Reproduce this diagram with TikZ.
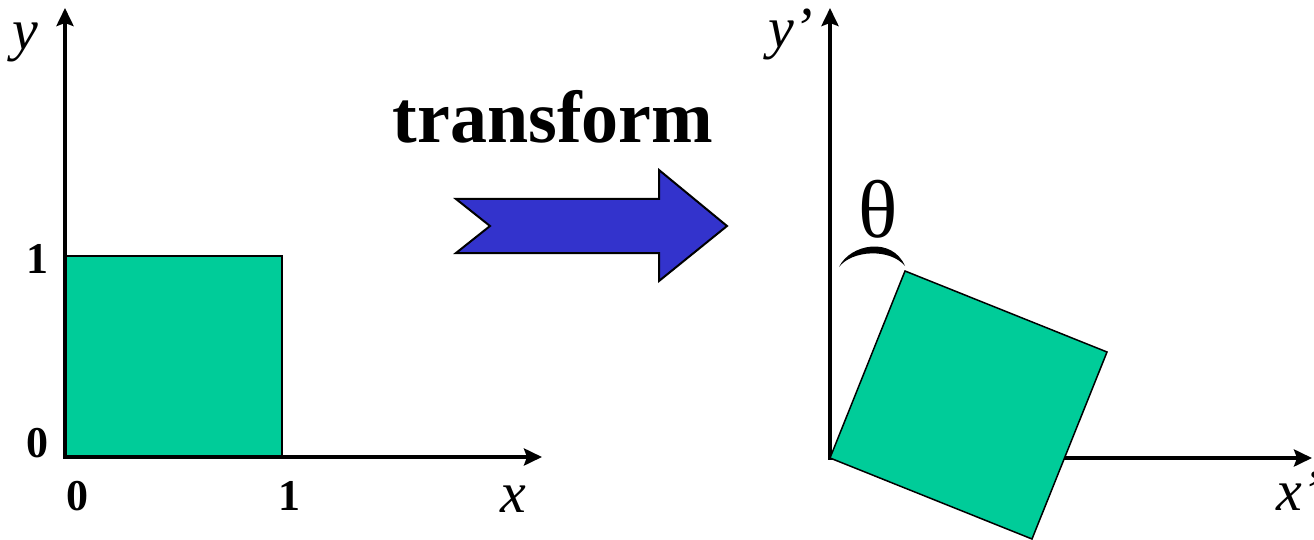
\documentclass[tikz,border=0pt]{standalone}
\usepackage{fontspec}
\setmainfont{Liberation Serif}
\usetikzlibrary{arrows.meta}
\definecolor{sqgreen}{HTML}{00CC99}
\definecolor{arrblue}{HTML}{3333CC}
\begin{document}
\begin{tikzpicture}[x=1pt,y=-1pt,
  axis/.style={line width=4pt,-{Stealth[length=18pt,width=17pt,inset=3pt]}},
  sq/.style={fill=sqgreen,draw=black,line width=1.5pt},
  lbl/.style={font=\fontsize{58}{60}\selectfont\itshape,anchor=base,inner sep=0pt},
  num/.style={font=\fontsize{44}{46}\selectfont\bfseries,anchor=base,inner sep=0pt},
  bigarrow/.style={fill=arrblue,draw=black,line width=2pt,line join=miter}]
\useasboundingbox (0,0) rectangle (1314,540);
% left system
\coordinate (o1) at (65,457);
\coordinate (ytip1) at (65,8);
\coordinate (xtip1) at (542,457);
\coordinate (c1) at (282,256);
\draw[sq] (o1) rectangle (c1);
\draw[axis] ([yshift=2pt]o1) -- (ytip1);
\draw[axis] ([xshift=-2pt]o1) -- (xtip1);
\node[lbl] (ly) at (25,50) {y};
\node[lbl] (lx) at (513,512) {x};
\node[num] (n0l) at (37,457) {0};
\node[num] (n1l) at (37,273) {1};
\node[num] (n0b) at (77,510) {0};
\node[num] (n1b) at (289,510) {1};
% transform arrow
\node[font=\fontsize{74}{76}\selectfont\bfseries,anchor=base,inner sep=0pt] (tr) at (553,143) {transform};
\draw[bigarrow] (456,199) -- (490,226) -- (456,253) -- (659,253) -- (659,281) -- (727,226) -- (659,170) -- (659,199) -- cycle;
% right system
\coordinate (o2) at (830,458);
\coordinate (ytip2) at (830,8);
\coordinate (xtip2) at (1312,458);
\draw[axis] ([yshift=2pt]o2) -- (ytip2);
\draw[axis] ([xshift=-2pt]o2) -- (xtip2);
\coordinate (p1) at (905,271);
\coordinate (p2) at (1107,352);
\coordinate (p3) at (1032,539);
\draw[sq,line join=miter] (o2) -- (p1) -- (p2) -- (p3) -- cycle;
\node[lbl,anchor=base west] (ly2) at (768,48) {y’};
\node[lbl,anchor=base west] (lx2) at (1276,510) {x’};
\node[font=\fontsize{82}{84}\selectfont,anchor=base,inner sep=0pt] (th) at (878,237) {θ};
\fill (839,267) .. controls (850,244) and (892,236) .. (905,266)
  .. controls (890,248) and (852,250) .. (839,267) -- cycle;
\end{tikzpicture}
\end{document}
